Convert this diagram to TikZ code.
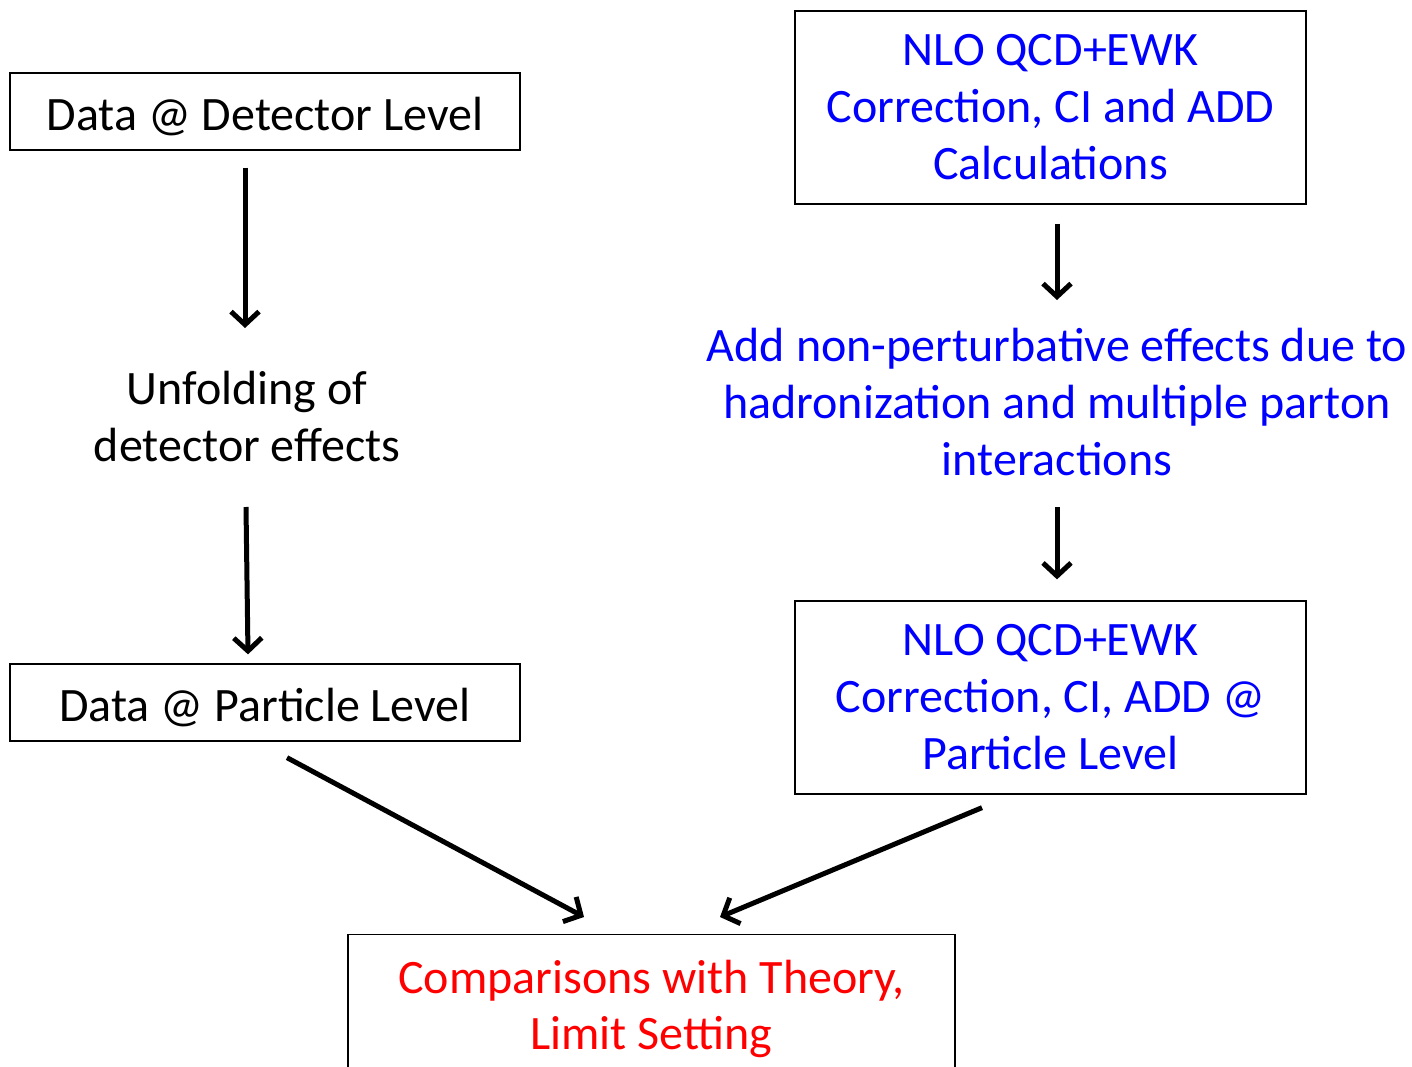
\documentclass[tikz,border=0pt]{standalone}
\usepackage{fontspec}
\setmainfont{Carlito}
\usetikzlibrary{arrows.meta,calc}

\tikzset{
  txt/.style={inner sep=0.75pt, align=center, font=\fontsize{48}{57}\selectfont},
  boxed/.style={txt, draw, line width=1.3pt},
  oneline/.style={text height=50pt, text depth=12pt},
  arr/.style={line width=5pt, -{Straight Barb[length=13pt,width=28pt,line width=5pt]}},
}

\begin{document}
\begin{tikzpicture}[x=1pt,y=1pt,yscale=-1,xscale=1]
\useasboundingbox (0,0) rectangle (1412,1067);

% Text Node
\node [boxed, oneline, minimum width=510, minimum height=77] (det) at (265,111.5) {Data @ Detector Level};
% Text Node
\node [txt] (unf) at (247,417) {Unfolding of\\detector effects};
% Text Node
\node [boxed, oneline, minimum width=510, minimum height=77] (par) at (265,702.5) {Data @ Particle Level};
% Text Node
\node [boxed, text=blue, minimum width=511, minimum height=193] (ewk) at (1050.5,107.5) {NLO QCD+EWK\\Correction, CI and ADD\\Calculations};
% Text Node
\node [txt, text=blue] (hadr) at (1057,402) {Add non-perturbative effects due to\\hadronization and multiple parton\\interactions};
% Text Node
\node [boxed, text=blue, minimum width=511, minimum height=193] (npc) at (1050.5,697.5) {NLO QCD+EWK\\Correction, CI, ADD @\\Particle Level};
% Text Node
\node [boxed, text=red, anchor=north, minimum width=607, inner ysep=26pt, font=\fontsize{48}{56}\selectfont] (cmp) at (651.5,934) {Comparisons with Theory,\\Limit Setting};

%Straight Lines
\draw [arr] ($(det.south)+(-20,17)$) -- ($(unf.center)+(-2,-89)$);
\draw [arr] ($(unf.center)+(-1,90)$) -- ($(par.north)+(-17,-9)$);
\draw [arr] ($(par.south)+(22,16)$) -- ($(cmp.north)+(-67.5,-17)$);
\draw [arr] ($(ewk.south)+(6.5,19)$) -- ($(hadr.center)+(0,-102)$);
\draw [arr] ($(hadr.center)+(0,105)$) -- ($(npc.north)+(6.5,-21)$);
\draw [arr] ($(npc.south)+(-68.5,13)$) -- ($(cmp.north)+(68.5,-17)$);

\end{tikzpicture}
\end{document}
